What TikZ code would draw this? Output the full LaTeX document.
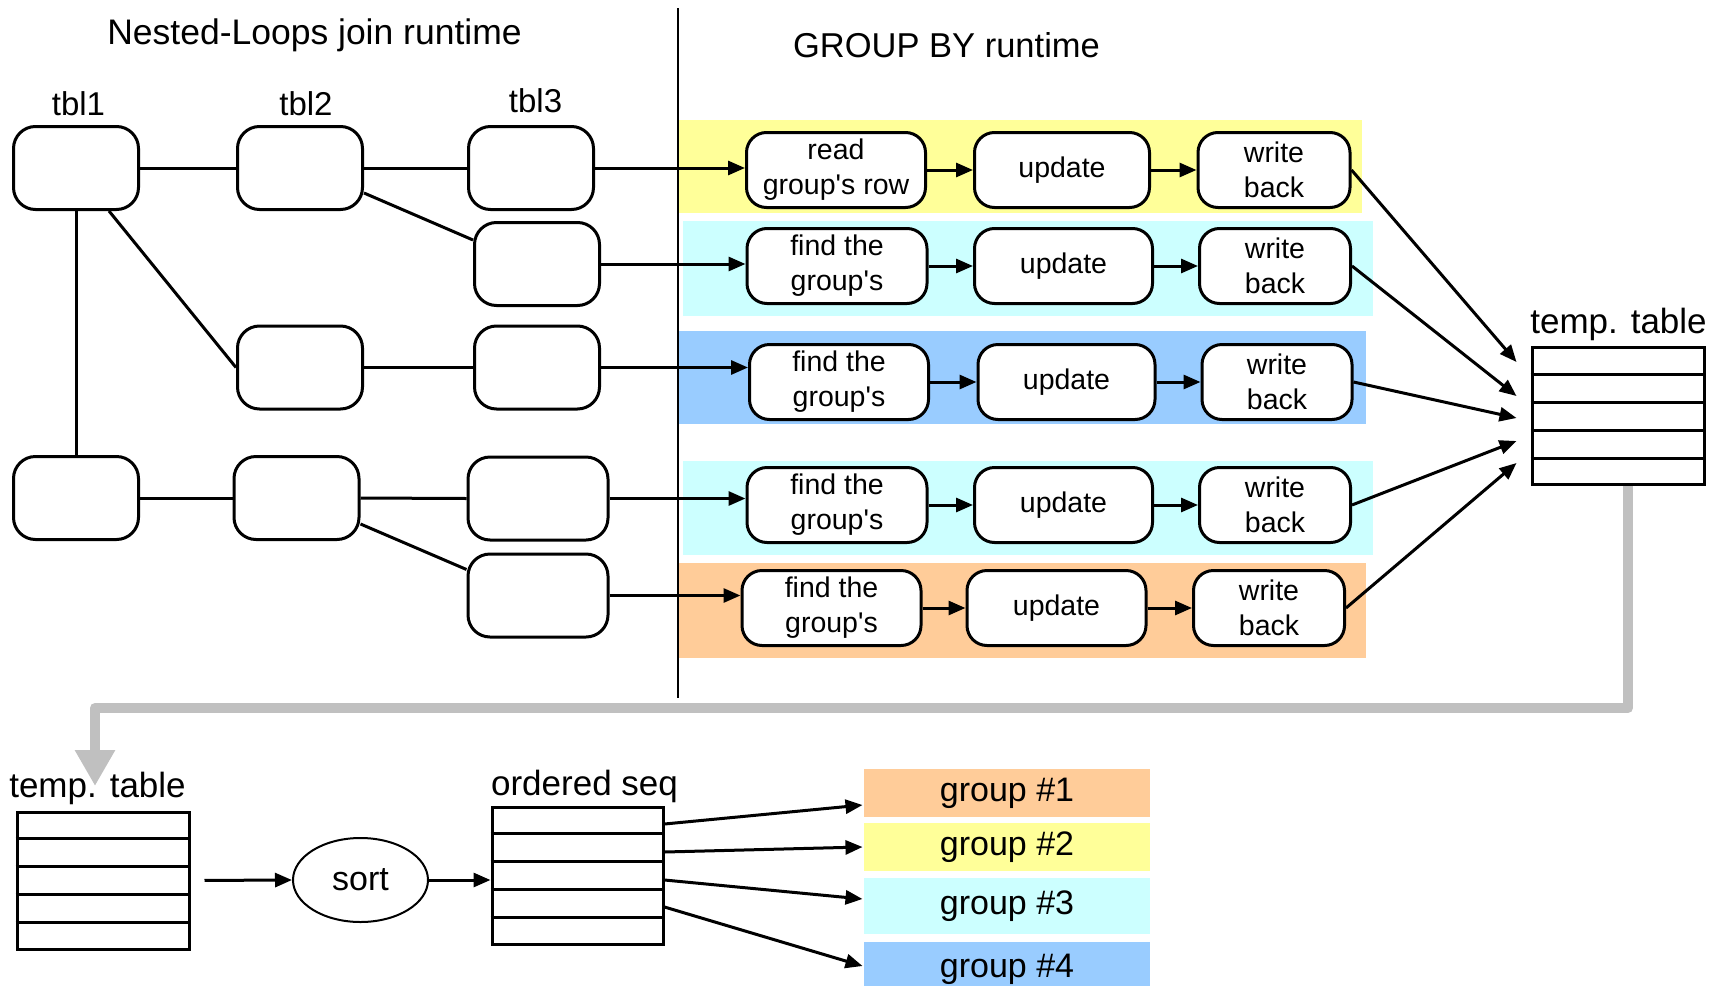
\documentclass[tikz,border=0pt]{standalone}
\usepackage{fontspec}
\setmainfont{Liberation Sans}
\usetikzlibrary{arrows.meta,shapes.geometric,calc}
\definecolor{bandyellow}{HTML}{FFFF99}
\definecolor{bandcyan}{HTML}{CCFFFF}
\definecolor{bandblue}{HTML}{99CCFF}
\definecolor{bandorange}{HTML}{FFCC99}
\definecolor{flowgray}{HTML}{C0C0C0}
\begin{document}
\begin{tikzpicture}[x=1pt,y=-1pt,line width=3pt,
        >={Triangle[length=17pt,width=14pt]},
        loopbox/.style={draw,rounded corners=22pt,minimum width=125pt,minimum height=83pt,inner sep=0pt},
        grpbox/.style={draw,fill=white,rounded corners=20pt,minimum height=75pt,inner sep=0pt,align=center,font=\fontsize{28.5}{35}\selectfont},
        lbl/.style={anchor=base,inner sep=0pt,font=\fontsize{35}{40}\selectfont},
        tabbox/.style={draw,minimum width=172pt,minimum height=137pt,inner sep=0pt},
        grouplbl/.style={minimum width=286pt,inner sep=0pt,font=\fontsize{34}{40}\selectfont}]
        \useasboundingbox (0,0) rectangle (1723,985);
        % colour bands of the GROUP BY rows
        \fill [bandyellow] (677,120) rectangle (1362,212.5);
        \fill [bandcyan] (683,221) rectangle (1372.5,316);
        \fill [bandblue] (677,331) rectangle (1366,424);
        \fill [bandcyan] (683,461) rectangle (1372.5,555);
        \fill [bandorange] (677,563) rectangle (1366,658);
        \draw [line width=2pt] (677.5,8) -- (677.5,698);
        \node [lbl,font=\fontsize{35.5}{40}\selectfont] (nltitle) at (314.5,44) {Nested-Loops join runtime};
        \node [lbl,font=\fontsize{34.5}{40}\selectfont] (gbtitle) at (946.5,57) {GROUP BY runtime};
        \node [lbl,font=\fontsize{33}{40}\selectfont] (tbl1) at (78.5,115) {tbl1};
        \node [lbl,font=\fontsize{33}{40}\selectfont] (tbl2) at (306,115) {tbl2};
        \node [lbl,font=\fontsize{33}{40}\selectfont] (tbl3) at (535.5,112) {tbl3};
        % nested loops
        \node [loopbox] (t11) at (76,168) {};
        \node [loopbox] (t12) at (300,168) {};
        \node [loopbox] (t13) at (531,168) {};
        \node [loopbox] (t23) at (537,264) {};
        \node [loopbox] (t32) at (300,367.5) {};
        \node [loopbox] (t33) at (537,367.5) {};
        \node [loopbox] (t41) at (76,498) {};
        \node [loopbox] (t42) at (296.5,498) {};
        \node [loopbox,minimum width=140pt] (t43) at (538,498.5) {};
        \node [loopbox,minimum width=140pt] (t53) at (538,595.5) {};
        \draw (t11.east) -- (t12.west);
        \draw (t12.east) -- (t13.west);
        \draw (t11.south) -- (t41.north);
        \draw ([xshift=33pt]t11.south) -- (t32.west);
        \draw ([yshift=-25pt]t12.east) -- ([yshift=24pt]t23.west);
        \draw (t32.east) -- (t33.west);
        \draw (t41.east) -- (t42.west);
        \draw (t42.east) -- (t43.west);
        \draw ([yshift=-26pt]t42.east) -- ([yshift=26pt]t53.west);
        % group by
        \node [grpbox,minimum width=179pt] (f1) at (836,170) {read\\group\textquotesingle s row};
        \node [grpbox,minimum width=175pt] (u1) at (1062,170) {update};
        \node [grpbox,minimum width=152pt] (w1) at (1274,170) {write\\back};
        \node [grpbox,minimum width=180pt] (f2) at (837,266) {find the\\group\textquotesingle s};
        \node [grpbox,minimum width=178pt] (u2) at (1063.5,266) {update};
        \node [grpbox,minimum width=151pt] (w2) at (1275,266) {write\\back};
        \node [grpbox,minimum width=179pt] (f3) at (839,382) {find the\\group\textquotesingle s};
        \node [grpbox,minimum width=177pt] (u3) at (1066.5,382) {update};
        \node [grpbox,minimum width=150pt] (w3) at (1277,382) {write\\back};
        \node [grpbox,minimum width=180pt] (f4) at (837,505) {find the\\group\textquotesingle s};
        \node [grpbox,minimum width=178pt] (u4) at (1063.5,505) {update};
        \node [grpbox,minimum width=151pt] (w4) at (1275,505) {write\\back};
        \node [grpbox,minimum width=179pt] (f5) at (831.5,608) {find the\\group\textquotesingle s};
        \node [grpbox,minimum width=179pt] (u5) at (1056.5,608) {update};
        \node [grpbox,minimum width=151pt] (w5) at (1269,608) {write\\back};
        \draw [->] (t13.east) -- (t13.east -| f1.west);
        \draw [->] (t23.east) -- (t23.east -| f2.west);
        \draw [->] (t33.east) -- (t33.east -| f3.west);
        \draw [->] (t43.east) -- (t43.east -| f4.west);
        \draw [->] (t53.east) -- (t53.east -| f5.west);
        \draw [->] (f1.east) -- (u1.west);
        \draw [->] (u1.east) -- (w1.west);
        \draw [->] (f2.east) -- (u2.west);
        \draw [->] (u2.east) -- (w2.west);
        \draw [->] (f3.east) -- (u3.west);
        \draw [->] (u3.east) -- (w3.west);
        \draw [->] (f4.east) -- (u4.west);
        \draw [->] (u4.east) -- (w4.west);
        \draw [->] (f5.east) -- (u5.west);
        \draw [->] (u5.east) -- (w5.west);
        % temp. table
        \node [tabbox] (ttab) at (1618,416) {};
        \foreach \i in {1,...,4}
            \draw ($(ttab.north west)!\i/5!(ttab.south west)$) -- ($(ttab.north east)!\i/5!(ttab.south east)$);
        \node [lbl] (ttablbl) at (1618.5,333) {temp. table};
        \coordinate (in1) at ([xshift=-14pt,yshift=54pt]ttab.west);
        \coordinate (in2) at ([xshift=-14pt,yshift=20pt]ttab.west);
        \coordinate (in3) at ([xshift=-14pt,yshift=-2pt]ttab.west);
        \coordinate (in4) at ([xshift=-14pt,yshift=-25pt]ttab.west);
        \coordinate (in5) at ([xshift=-14pt,yshift=-47pt]ttab.west);
        \draw [->] (w1.east) -- (in1);
        \draw [->] (w2.east) -- (in2);
        \draw [->] (w3.east) -- (in3);
        \draw [->] (w4.east) -- (in4);
        \draw [->] (w5.east) -- (in5);
        % sorting
        \node [tabbox] (ltab) at (103,880.5) {};
        \foreach \i in {1,...,4}
            \draw ($(ltab.north west)!\i/5!(ltab.south west)$) -- ($(ltab.north east)!\i/5!(ltab.south east)$);
        \node [lbl] (ltablbl) at (97.5,797) {temp. table};
        \node [draw,ellipse,line width=2pt,minimum width=135pt,minimum height=84pt,inner sep=0pt,font=\fontsize{34}{40}\selectfont] (sort) at (360.5,880) {sort};
        \node [tabbox,minimum width=171pt] (oseq) at (577.5,875.5) {};
        \foreach \i in {1,...,4}
            \draw ($(oseq.north west)!\i/5!(oseq.south west)$) -- ($(oseq.north east)!\i/5!(oseq.south east)$);
        \node [lbl] (oseqlbl) at (584.5,795) {ordered seq};
        \draw [->,shorten <=14pt] (ltab.east) -- (sort.west);
        \draw [->] (sort.east) -- (sort.east -| oseq.west);
        \node [grouplbl,fill=bandorange,minimum height=48pt] (g1) at (1007,793) {group \#1};
        \node [grouplbl,fill=bandyellow,minimum height=48pt] (g2) at (1007,847) {group \#2};
        \node [grouplbl,fill=bandcyan,minimum height=56pt] (g3) at (1007,906) {group \#3};
        \node [grouplbl,fill=bandblue,minimum height=54pt] (g4) at (1007,969) {group \#4};
        \draw [->] ([yshift=51.5pt]oseq.east) -- ([yshift=-12pt]g1.west);
        \draw [->] ([yshift=23.5pt]oseq.east) -- (g2.west);
        \draw [->] ([yshift=-4.5pt]oseq.east) -- ([yshift=7pt]g3.west);
        \draw [->] ([yshift=-31.5pt]oseq.east) -- ([yshift=3pt]g4.west);
        % flow back to the sort stage
        \coordinate (bend) at (95,708);
        \coordinate (drop) at (95,786);
        \draw [flowgray,line width=10pt,line join=round,-{Triangle[length=36pt,width=38pt]}] ([xshift=10pt]ttab.south) |- (bend) -- (drop);
    \end{tikzpicture}
\end{document}
